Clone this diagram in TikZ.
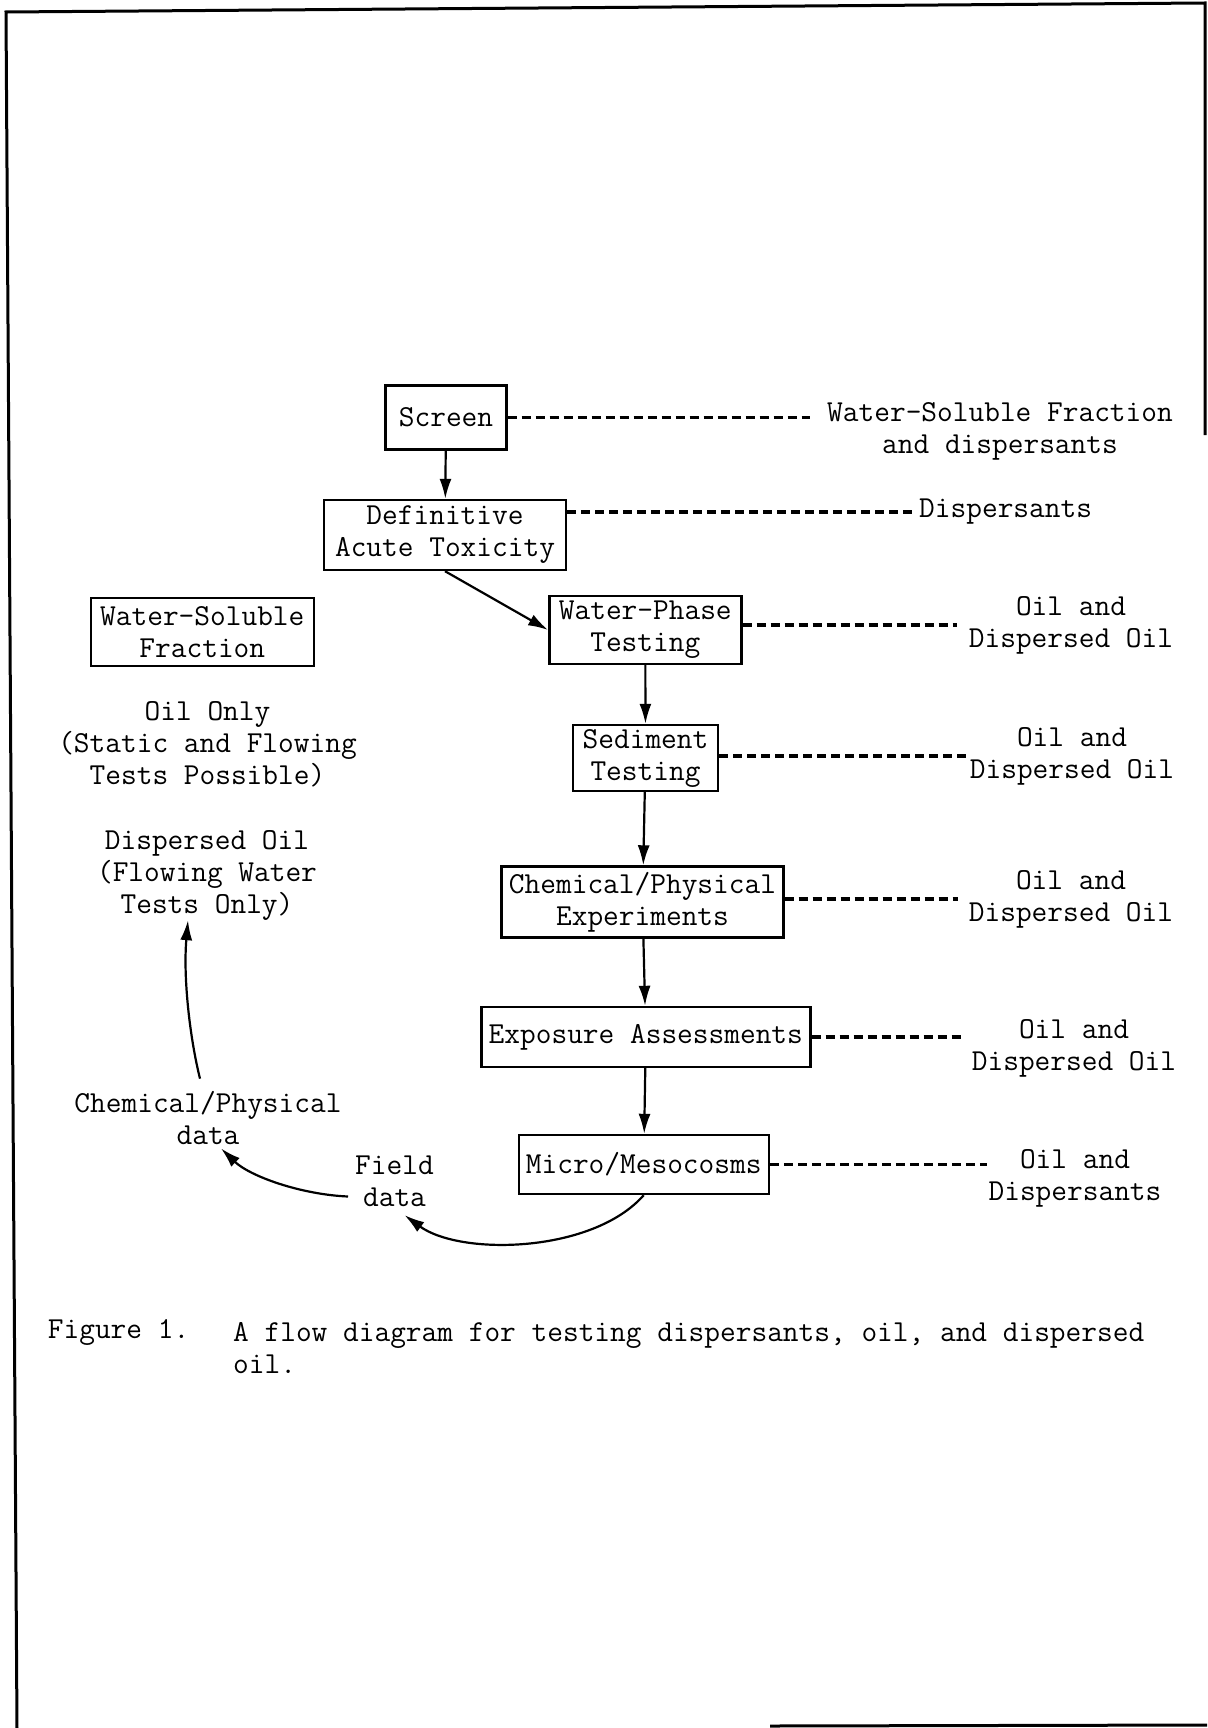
\documentclass[tikz,border=0pt]{standalone}
\usepackage{fontspec}
\usetikzlibrary{arrows.meta}

\begin{document}
\begin{tikzpicture}[x=1pt, y=-1pt]

      \tikzset{box/.style={draw, line width=2.4pt, inner sep=0pt, align=center, font=\ttfamily\fontsize{30.5pt}{32pt}\selectfont},
               txt/.style={inner sep=0pt, align=center, font=\ttfamily\fontsize{30.5pt}{32pt}\selectfont},
               flow/.style={-{Latex[length=20pt, width=12pt]}, line width=2.2pt},
               link/.style={line width=3.6pt, dash pattern=on 9pt off 5pt},
               frame/.style={line width=3pt}}
      \useasboundingbox (0,0) rectangle (1207,1728);
%% Frame
      \draw[frame] (17,1728) -- (6,12) -- (1205,3) -- (1205,435);
      \draw[frame] (770,1726) -- (1207,1725);
%% Boxes
      	\node[box, minimum width=121pt, minimum height=64pt] (screen) at (446,417.5) {Screen};
      	\node[box, minimum width=242pt, minimum height=70pt] (definitive) at (445,535) {Definitive\\Acute Toxicity};
      	\node[box, minimum width=192pt, minimum height=68pt] (waterphase) at (645.3,630) {Water-Phase\\Testing};
      	\node[box, minimum width=145pt, minimum height=66pt] (sediment) at (645.5,758) {Sediment\\Testing};
      	\node[box, minimum width=282pt, minimum height=71pt] (chemexp) at (642.5,902) {Chemical/Physical\\Experiments};
      	\node[box, minimum width=329pt, minimum height=60pt] (exposure) at (645.8,1037) {Exposure Assessments};
      	\node[box, minimum width=250pt, minimum height=59pt] (micro) at (643.7,1164.5) {Micro/Mesocosms};
      	\node[box, minimum width=223pt, minimum height=68pt] (wsfbox) at (202.3,632) {Water-Soluble\\Fraction};
%% Labels
      	\node[txt] (wsfdisp) at (1000,431) {Water-Soluble Fraction\\and dispersants};
      	\node[txt] (dispersants) at (1005.6,511.7) {Dispersants};
      	\node[txt] (wpoil) at (1071,625) {Oil and\\Dispersed Oil};
      	\node[txt] (sedoil) at (1072,756) {Oil and\\Dispersed Oil};
      	\node[txt] (chemoil) at (1071,899) {Oil and\\Dispersed Oil};
      	\node[txt] (expoil) at (1074,1048) {Oil and\\Dispersed Oil};
      	\node[txt] (microdisp) at (1075,1178.5) {Oil and\\Dispersants};
      	\node[txt] (oilonly) at (207.5,744.5) {Oil Only\\(Static and Flowing\\Tests Possible)};
      	\node[txt] (dispoil) at (207,875) {Dispersed Oil\\(Flowing Water\\Tests Only)};
      	\node[txt] (chemdata) at (208,1117.5) {Chemical/Physical\\data};
      	\node[txt] (field) at (394.5,1181.5) {Field\\data};
      	\node[txt, anchor=west] (figlabel) at (47.7,1332) {Figure 1.};
      	\node[txt, anchor=west, align=left] (figtext) at (233,1348) {A flow diagram for testing dispersants, oil, and dispersed\\oil.};
%Edges
		\path [flow] (screen) edge (definitive);
		\path [flow] (definitive.south) edge (waterphase.west);
		\path [flow] (waterphase) edge (sediment);
		\path [flow] (sediment) edge (chemexp);
		\path [flow] (chemexp) edge (exposure);
		\path [flow] (exposure) edge (micro);
		\draw [flow] (micro.south) .. controls +(-51,58) and +(56,41) .. ([xshift=10pt, yshift=-8pt]field.south);
		\draw [flow] ([xshift=-7pt, yshift=-15pt]field.west) .. controls +(-47,-2) and +(29,28) .. ([xshift=13pt, yshift=-4pt]chemdata.south);
		\draw [flow] ([xshift=-8pt, yshift=12pt]chemdata.north) .. controls +(-10,-40) and +(-5,58) .. ([xshift=-19pt]dispoil.south);
%Dashed links
		\path [link] (screen) edge[shorten >=17pt] (screen.east -| wsfdisp.west);
		\path [link] (definitive.east |- dispersants) edge[shorten >=6pt] (dispersants);
		\path [link] (waterphase.east |- wpoil) edge[shorten >=12pt] (wpoil);
		\path [link] (sediment.east |- sedoil) edge[shorten >=1pt] (sedoil);
		\path [link] (chemexp.east |- chemoil) edge[shorten >=11pt] (chemoil);
		\path [link] (exposure) edge[shorten >=7pt] (exposure.east -| expoil.west);
		\path [link] (micro) edge[shorten >=1pt] (micro.east -| microdisp.west);

	\end{tikzpicture}
\end{document}
